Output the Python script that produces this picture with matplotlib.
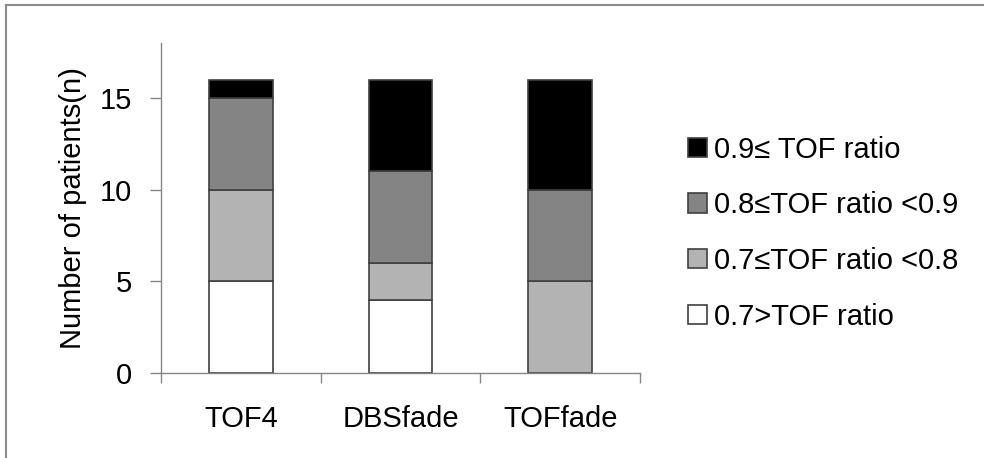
import matplotlib
matplotlib.use("Agg")
import matplotlib.pyplot as plt
from matplotlib.lines import Line2D

plt.rcParams['font.family'] = ['Liberation Sans', 'DejaVu Sans']

# data
groups = ["TOF4", "DBSfade", "TOFfade"]
labels = ["0.7>TOF ratio", "0.7≤TOF ratio <0.8", "0.8≤TOF ratio <0.9", "0.9≤ TOF ratio"]
lt07 = [5, 4, 0]
r07_08 = [5, 2, 5]
r08_09 = [5, 5, 5]
ge09 = [1, 5, 6]
series = [lt07, r07_08, r08_09, ge09]
colors = ["#ffffff", "#b3b3b3", "#848484", "#000000"]

fs = 21

fig = plt.figure(figsize=(9.84, 4.58), dpi=100)
ax = fig.add_axes([0.1636, 0.1856, 0.4868, 0.7204])

# chart border (only top and left edges visible in the crop)
fig.lines.append(Line2D([5.5 / 984, 5.5 / 984], [0, 1 - 4.5 / 458], transform=fig.transFigure,
                        color="#8c8c8c", linewidth=1.5))
fig.lines.append(Line2D([5.5 / 984, 1], [1 - 4.5 / 458, 1 - 4.5 / 458], transform=fig.transFigure,
                        color="#8c8c8c", linewidth=1.5))

x = list(range(len(groups)))
bottom = [0] * len(groups)
handles = []
for vals, col, lab in zip(series, colors, labels):
    b = ax.bar(x, vals, width=0.4, bottom=bottom, color=col,
               edgecolor="#404040", linewidth=1.2, label=lab)
    handles.append(b)
    bottom = [p + q for p, q in zip(bottom, vals)]

ax.set_xlim(-0.5, 2.5)
ax.set_ylim(0, 18)
ax.set_yticks([0, 5, 10, 15])
ax.set_xticks(x)
ax.set_xticklabels(groups)
ax.set_xticks([-0.5, 0.5, 1.5, 2.5], minor=True)
ax.tick_params(axis='x', which='major', length=0, pad=23, labelsize=fs)
ax.tick_params(axis='x', which='minor', length=7, width=1, color="#868686", direction='out')
ax.tick_params(axis='y', length=8, width=1, color="#868686", direction='out', labelsize=fs, pad=13)

for s in ["top", "right"]:
    ax.spines[s].set_visible(False)
for s in ["left", "bottom"]:
    ax.spines[s].set_color("#868686")
    ax.spines[s].set_linewidth(1)

ax.set_ylabel("Number of patients(n)", fontsize=fs, labelpad=9)

leg = fig.legend(handles[::-1], labels[::-1], loc='center left',
                 bbox_to_anchor=(0.699, 0.491), frameon=False, fontsize=fs,
                 handlelength=0.65, handleheight=0.65, handletextpad=0.25,
                 labelspacing=0.95, borderpad=0, borderaxespad=0)

fig.savefig("out.png", dpi=100)
